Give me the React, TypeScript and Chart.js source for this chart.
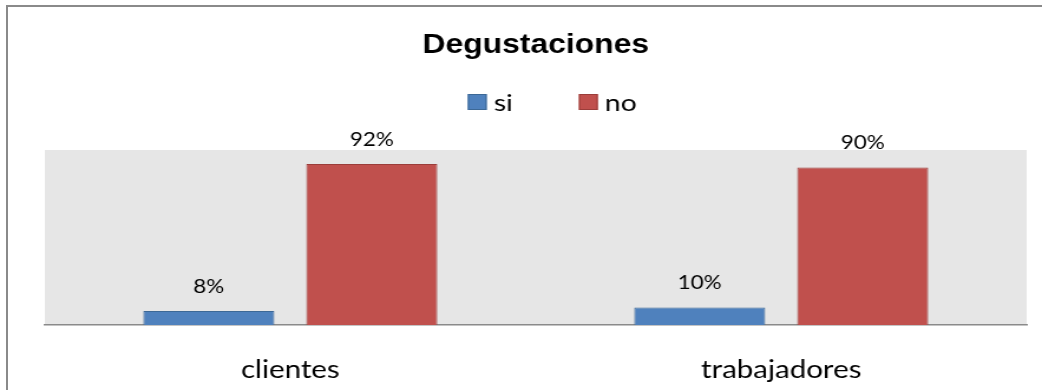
import React, { useEffect, useRef } from "react";
import { Chart, registerables } from "chart.js";

Chart.register(...registerables);

// Survey results: share of "si" / "no" answers per group
const categories = ["clientes", "trabajadores"];
const siValues = [8, 10];
const noValues = [92, 90];
const seriesNames = ["si", "no"];

// The canvas is laid out on a narrower logical width and stretched horizontally.
const LOGICAL_W = 883;
const VIEW_W = 1042;
const VIEW_H = 390;

const LABEL_FONT = "Lato";

const plotBackground = {
  id: "plotBackground",
  beforeDraw(chart: any) {
    const { ctx, chartArea } = chart;
    ctx.save();
    ctx.fillStyle = "#E6E6E6";
    ctx.fillRect(chartArea.left, chartArea.top, chartArea.right - chartArea.left, chartArea.bottom - chartArea.top);
    ctx.restore();
  },
};

// Value labels above each bar
const valueLabels = {
  id: "valueLabels",
  afterDatasetsDraw(chart: any) {
    const { ctx } = chart;
    ctx.save();
    ctx.font = `19px ${LABEL_FONT}`;
    ctx.fillStyle = "#000";
    ctx.textAlign = "center";
    ctx.textBaseline = "alphabetic";
    chart.data.datasets.forEach((ds: any, i: number) => {
      const meta = chart.getDatasetMeta(i);
      meta.data.forEach((el: any, j: number) => {
        ctx.fillText(`${ds.data[j]}%`, el.x, el.y - 18.5);
      });
    });
    ctx.restore();
  },
};

// Compact horizontal legend between the title and the plot area
const compactLegend = {
  id: "compactLegend",
  afterDraw(chart: any) {
    const { ctx, chartArea } = chart;
    const box = 16;
    const textGap = 6;
    const itemGap = 56;
    const boxTop = 94;
    const baseline = 111;
    ctx.save();
    ctx.font = `24px ${LABEL_FONT}`;
    const items = chart.data.datasets.map((ds: any) => ({
      text: ds.label,
      fill: ds.backgroundColor,
      stroke: ds.borderColor,
      w: ctx.measureText(ds.label).width,
    }));
    const total =
      items.reduce((s: number, it: any) => s + box + textGap + it.w, 0) + itemGap * (items.length - 1);
    let x = (chartArea.left + chartArea.right) / 2 + 14 - total / 2;
    items.forEach((it: any) => {
      ctx.fillStyle = it.fill;
      ctx.fillRect(x, boxTop, box, box);
      ctx.strokeStyle = it.stroke;
      ctx.lineWidth = 1;
      ctx.strokeRect(x + 0.5, boxTop + 0.5, box - 1, box - 1);
      ctx.fillStyle = "#000";
      ctx.textAlign = "left";
      ctx.textBaseline = "alphabetic";
      ctx.fillText(it.text, x + box + textGap, baseline);
      x += box + textGap + it.w + itemGap;
    });
    ctx.restore();
  },
};

export default function App() {
  const canvasRef = useRef<HTMLCanvasElement | null>(null);

  useEffect(() => {
    const canvas = canvasRef.current;
    if (!canvas) return;
    const chart = new Chart(canvas, {
      type: "bar",
      data: {
        labels: categories,
        datasets: [
          {
            label: seriesNames[0],
            data: siValues,
            backgroundColor: "#4F81BD",
            borderColor: "#3C6896",
            borderWidth: 1,
          },
          {
            label: seriesNames[1],
            data: noValues,
            backgroundColor: "#C0504D",
            borderColor: "#9B3D3A",
            borderWidth: 1,
          },
        ],
      },
      options: {
        responsive: false,
        animation: false,
        devicePixelRatio: 1,
        layout: { padding: { left: 38, right: 13, top: 0, bottom: 0 } },
        datasets: {
          bar: { categoryPercentage: 0.664, barPercentage: 0.804 },
        },
        plugins: {
          title: {
            display: true,
            text: "Degustaciones",
            color: "#000",
            font: { family: "'Liberation Sans', Arial, sans-serif", size: 27, weight: "bold" },
            padding: { top: 29, bottom: 88.6 },
          },
          legend: { display: false },
          tooltip: { enabled: false },
        },
        scales: {
          x: {
            grid: { display: false, drawTicks: false },
            border: { display: true, color: "#8A8A8A", width: 1.5 },
            ticks: { color: "#000", font: { family: LABEL_FONT, size: 25 }, padding: 30 },
            afterFit: (scale: any) => {
              scale.height = 65;
            },
          },
          y: {
            display: false,
            min: 0,
            max: 100,
          },
        },
      },
      plugins: [plotBackground, valueLabels, compactLegend],
    });
    return () => chart.destroy();
  }, []);

  return (
    <div
      style={{
        position: "fixed",
        left: 0,
        top: 0,
        width: VIEW_W,
        height: VIEW_H,
        background: "#fff",
        overflow: "hidden",
      }}
    >
      <canvas
        ref={canvasRef}
        width={LOGICAL_W}
        height={VIEW_H}
        style={{ position: "absolute", left: 0, top: 0, width: VIEW_W + "px", height: VIEW_H + "px", display: "block" }}
      />
      <div
        style={{
          position: "absolute",
          left: 6,
          top: 5,
          width: VIEW_W + 50,
          height: VIEW_H + 50,
          borderTop: "2px solid #8A8A8A",
          borderLeft: "2px solid #8A8A8A",
        }}
      />
    </div>
  );
}
